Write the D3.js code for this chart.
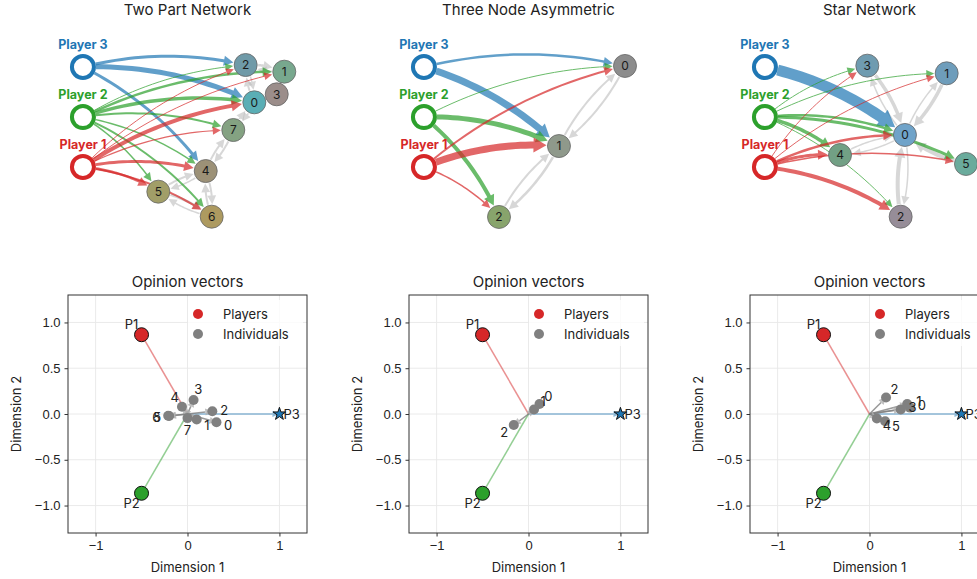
<!DOCTYPE html>
<html>
<head>
<meta charset="utf-8">
<script src="https://cdn.jsdelivr.net/npm/d3@7"></script>
<style>
  body { margin: 0; background: #fff; }
  svg { font-family: Inter, "Noto Sans", sans-serif; }
</style>
</head>
<body>
<div id="chart"></div>
<script>
// overall size and panel frames
var W = 977, H = 579;
var panelLeft = [68, 409, 750], panelW = 239;
var netTop = 25, netBottom = 235;
var vecTop = 295, vecBottom = 533;

var panelTitles = ["Two Part Network", "Three Node Asymmetric", "Star Network"];

// players (0 = Player 1, 1 = Player 2, 2 = Player 3)
var playerNames = ["Player 1", "Player 2", "Player 3"];
var playerShort = ["P1", "P2", "P3"];
var playerColors = ["#d62728", "#2ca02c", "#1f77b4"];
var playerLayoutX = [-1.05, -1.05, -1.05];
var playerLayoutY = [-0.387, 0.136, 0.66];

// --- Two Part Network ---
var net1Ids = [0, 1, 2, 3, 4, 5, 6, 7];
var net1X = [0.671, 0.972, 0.584, 0.896, 0.183, -0.293, 0.243, 0.46];
var net1Y = [0.29, 0.611, 0.681, 0.374, -0.43, -0.646, -0.908, 0.0];
var net1Colors = ["#5aaeb5", "#78a88e", "#6f9aa8", "#9b8d8a", "#9c9177", "#a19e68", "#ad9a60", "#84a282"];
// [player, node, weight]
var net1PlayerEdges = [
  [2, 2, 3], [2, 0, 5], [2, 4, 3],
  [1, 2, 1], [1, 1, 2.5], [1, 0, 3.5], [1, 7, 2], [1, 4, 1.5], [1, 5, 1.5], [1, 6, 2],
  [0, 2, 1], [0, 1, 1], [0, 0, 4], [0, 7, 1.2], [0, 4, 3], [0, 5, 2.5], [0, 6, 2]
];
// [from, to, weight]
var net1Links = [
  [5, 4, 2], [4, 5, 1.5], [5, 6, 2.5], [6, 5, 1.5], [4, 6, 2], [6, 4, 2],
  [4, 7, 2], [7, 4, 2], [7, 0, 2], [0, 7, 1.5], [0, 2, 2], [2, 0, 1.5],
  [2, 1, 2.5], [1, 2, 2], [1, 3, 2], [3, 1, 2], [0, 3, 1.5], [3, 0, 1.5]
];

// --- Three Node Asymmetric ---
var net2Ids = [0, 1, 2];
var net2X = [0.969, 0.306, -0.296];
var net2Y = [0.671, -0.168, -0.911];
var net2Colors = ["#8c8c8c", "#8f998b", "#88a46c"];
var net2PlayerEdges = [
  [2, 0, 2.5], [2, 1, 7],
  [1, 0, 1], [1, 1, 5], [1, 2, 4],
  [0, 0, 2], [0, 1, 7], [0, 2, 1.5]
];
var net2Links = [[0, 1, 2], [1, 0, 2], [1, 2, 2.5], [2, 1, 2]];

// --- Star Network ---
var net3Ids = [0, 1, 2, 3, 4, 5];
var net3X = [0.356, 0.775, 0.313, -0.022, -0.296, 0.969];
var net3Y = [-0.052, 0.594, -0.908, 0.674, -0.262, -0.356];
var net3Colors = ["#6fa3c9", "#6e9dbb", "#968d98", "#6f9bb0", "#72a085", "#6aab9c"];
var net3PlayerEdges = [
  [2, 0, 11],
  [1, 3, 1], [1, 1, 1], [1, 0, 2.5], [1, 5, 3], [1, 4, 3.5], [1, 2, 1],
  [0, 3, 1], [0, 1, 1], [0, 0, 2.5], [0, 4, 3], [0, 5, 1.5], [0, 2, 4]
];
var net3Links = [
  [3, 0, 3.5], [0, 3, 1.5], [1, 0, 3.5], [0, 1, 1.5], [5, 0, 4],
  [2, 0, 4], [0, 2, 1.5], [4, 0, 1.5], [0, 4, 1.5]
];

// --- Opinion vectors ---
var playerOpX = [-0.5, -0.5, 1];
var playerOpY = [0.866, -0.866, 0];
var op1X = [0.315, 0.10, 0.27, 0.066, -0.06, -0.20, -0.21, 0.0];
var op1Y = [-0.09, -0.06, 0.03, 0.153, 0.08, -0.022, -0.02, -0.045];
var op2X = [0.12, 0.06, -0.16];
var op2Y = [0.11, 0.05, -0.12];
var op3X = [0.44, 0.41, 0.18, 0.34, 0.08, 0.17];
var op3Y = [0.07, 0.11, 0.18, 0.05, -0.05, -0.08];

var xTicks = [-1, 0, 1];
var yTicks = [-1, -0.5, 0, 0.5, 1];
var legendLabels = ["Players", "Individuals"];

var nets = [
  {ids: net1Ids, x: net1X, y: net1Y, colors: net1Colors, pEdges: net1PlayerEdges, links: net1Links, opX: op1X, opY: op1Y},
  {ids: net2Ids, x: net2X, y: net2Y, colors: net2Colors, pEdges: net2PlayerEdges, links: net2Links, opX: op2X, opY: op2Y},
  {ids: net3Ids, x: net3X, y: net3Y, colors: net3Colors, pEdges: net3PlayerEdges, links: net3Links, opX: op3X, opY: op3Y}
];

var svg = d3.select("#chart").append("svg")
  .attr("width", W)
  .attr("height", H);

var fmtTick = function(d) { return (d < 0 ? "\u2212" : "") + Math.abs(d); };
var fmtTickY = function(d) { return (d < 0 ? "\u2212" : "") + Math.abs(d).toFixed(1); };

// quadratic bezier helpers for the curved (arc3 like) edges
function bez(p0, c, p1, t) {
  var a = (1 - t) * (1 - t), b = 2 * t * (1 - t), e = t * t;
  return [a * p0[0] + b * c[0] + e * p1[0], a * p0[1] + b * c[1] + e * p1[1]];
}
function dist(a, b) { return Math.hypot(a[0] - b[0], a[1] - b[1]); }

function drawEdge(g, s, tg, rs, rt, w, color, opacity, rad) {
  var dx = tg[0] - s[0], dy = tg[1] - s[1];
  var c = [(s[0] + tg[0]) / 2 + rad * dy, (s[1] + tg[1]) / 2 - rad * dx];
  var i, lo, hi, mid;
  // leave the source circle
  lo = 0; hi = 0.5;
  for (i = 0; i < 30; i++) { mid = (lo + hi) / 2; if (dist(bez(s, c, tg, mid), s) < rs) lo = mid; else hi = mid; }
  var t0 = hi;
  // stop at the target circle
  lo = 0.5; hi = 1;
  for (i = 0; i < 30; i++) { mid = (lo + hi) / 2; if (dist(bez(s, c, tg, mid), tg) > rt) lo = mid; else hi = mid; }
  var t1 = lo;
  var tip = bez(s, c, tg, t1);
  var hl = 7 + w * 0.85, hw = 3.2 + w * 0.6;
  lo = t0; hi = t1;
  for (i = 0; i < 30; i++) { mid = (lo + hi) / 2; if (dist(bez(s, c, tg, mid), tip) > hl) lo = mid; else hi = mid; }
  var t2 = lo;
  var pts = d3.range(0, 21).map(function(k) { return bez(s, c, tg, t0 + (t2 + 0.02 * (t1 - t0) - t0) * k / 20); });
  var base = bez(s, c, tg, t2);
  var ux = tip[0] - base[0], uy = tip[1] - base[1], L = Math.hypot(ux, uy);
  ux /= L; uy /= L;
  var eg = g.append("g").attr("opacity", opacity);
  eg.append("path")
    .attr("d", d3.line()(pts))
    .attr("fill", "none")
    .attr("stroke", color)
    .attr("stroke-width", w);
  eg.append("path")
    .attr("d", d3.line()([tip, [base[0] - uy * hw, base[1] + ux * hw], [base[0] + uy * hw, base[1] - ux * hw]]) + "Z")
    .attr("fill", color);
}

var nodeR = 11.5, playerR = 11;

nets.forEach(function(net, p) {
  var left = panelLeft[p];

  // ---------- top: network ----------
  var gx = d3.scaleLinear().domain([-1.2, 1.2]).range([left, left + panelW]);
  var gy = d3.scaleLinear().domain([-1.1, 1.1]).range([netBottom, netTop]);
  var g = svg.append("g");

  g.append("text")
    .attr("x", left + panelW / 2).attr("y", 15)
    .attr("text-anchor", "middle")
    .attr("font-size", 15).attr("fill", "#222")
    .text(panelTitles[p]);

  var nodePos = {};
  net.ids.forEach(function(id, i) { nodePos[id] = [gx(net.x[i]), gy(net.y[i])]; });
  var playerPos = playerNames.map(function(n, i) { return [gx(playerLayoutX[i]), gy(playerLayoutY[i])]; });

  var edgeG = g.append("g");
  net.links.forEach(function(l) {
    drawEdge(edgeG, nodePos[l[0]], nodePos[l[1]], nodeR + 1, nodeR + 1, l[2], "#bdbdbd", 0.6, 0.12);
  });
  net.pEdges.forEach(function(e) {
    drawEdge(edgeG, playerPos[e[0]], nodePos[e[1]], playerR + 2, nodeR + 1, e[2], playerColors[e[0]], 0.7, 0.12);
  });

  var nodes = g.append("g").selectAll("g")
    .data(net.ids)
    .enter().append("g")
    .attr("transform", function(d) { return "translate(" + nodePos[d][0] + "," + nodePos[d][1] + ")"; });
  nodes.append("circle")
    .attr("r", nodeR)
    .attr("fill", function(d, i) { return net.colors[i]; })
    .attr("stroke", "#666").attr("stroke-width", 0.8);
  nodes.append("text")
    .attr("text-anchor", "middle").attr("dy", "0.36em")
    .attr("font-size", 12).attr("fill", "#1a1a1a")
    .text(function(d) { return d; });

  var pl = g.append("g").selectAll("g")
    .data(playerNames)
    .enter().append("g")
    .attr("transform", function(d, i) { return "translate(" + playerPos[i][0] + "," + playerPos[i][1] + ")"; });
  pl.append("circle")
    .attr("r", playerR)
    .attr("fill", "#fff")
    .attr("stroke", function(d, i) { return playerColors[i]; })
    .attr("stroke-width", 4);
  pl.append("text")
    .attr("y", -18).attr("text-anchor", "middle")
    .attr("font-size", 12.5).attr("font-weight", "bold")
    .attr("fill", function(d, i) { return playerColors[i]; })
    .text(function(d) { return d; });

  // ---------- bottom: opinion vectors ----------
  var vx = d3.scaleLinear().domain([-1.3, 1.3]).range([left, left + panelW]);
  var vy = d3.scaleLinear().domain([-1.3, 1.3]).range([vecBottom, vecTop]);
  var v = svg.append("g");

  v.append("text")
    .attr("x", left + panelW / 2).attr("y", 287)
    .attr("text-anchor", "middle")
    .attr("font-size", 15).attr("fill", "#222")
    .text("Opinion vectors");

  // grid
  v.append("g").selectAll("line").data(xTicks).enter().append("line")
    .attr("x1", function(d) { return vx(d); }).attr("x2", function(d) { return vx(d); })
    .attr("y1", vecTop).attr("y2", vecBottom)
    .attr("stroke", "#e8e8e8").attr("stroke-width", 0.9);
  v.append("g").selectAll("line").data(yTicks).enter().append("line")
    .attr("y1", function(d) { return vy(d); }).attr("y2", function(d) { return vy(d); })
    .attr("x1", left).attr("x2", left + panelW)
    .attr("stroke", "#e8e8e8").attr("stroke-width", 0.9);

  // axes
  var xAxis = v.append("g")
    .attr("transform", "translate(0," + vecBottom + ")")
    .call(d3.axisBottom(vx).tickValues(xTicks).tickFormat(fmtTick).tickSize(3.5).tickPadding(4));
  var yAxis = v.append("g")
    .attr("transform", "translate(" + left + ",0)")
    .call(d3.axisLeft(vy).tickValues(yTicks).tickFormat(fmtTickY).tickSize(3.5).tickPadding(4));
  [xAxis, yAxis].forEach(function(a) {
    a.select(".domain").remove();
    a.selectAll("line").attr("stroke", "#333");
    a.selectAll("text").attr("font-size", 13).attr("fill", "#222").attr("font-family", null);
  });

  v.append("text")
    .attr("x", left + panelW / 2).attr("y", 572)
    .attr("text-anchor", "middle").attr("font-size", 13).attr("fill", "#222")
    .text("Dimension 1");
  v.append("text")
    .attr("transform", "translate(" + (left - 47) + "," + ((vecTop + vecBottom) / 2) + ") rotate(-90)")
    .attr("text-anchor", "middle").attr("font-size", 13).attr("fill", "#222")
    .text("Dimension 2");

  var ox = vx(0), oy = vy(0);
  function arrow(x2, y2, color, headColor, w, hl, hw, op) {
    var ux = x2 - ox, uy = y2 - oy, L = Math.hypot(ux, uy);
    ux /= L; uy /= L;
    var bx = x2 - ux * hl, by = y2 - uy * hl;
    v.append("line")
      .attr("x1", ox).attr("y1", oy).attr("x2", bx).attr("y2", by)
      .attr("stroke", color).attr("stroke-width", w).attr("opacity", op);
    v.append("path")
      .attr("d", d3.line()([[x2, y2], [bx - uy * hw, by + ux * hw], [bx + uy * hw, by - ux * hw]]) + "Z")
      .attr("fill", headColor).attr("opacity", op);
  }

  // player vectors
  playerOpX.forEach(function(d, i) {
    arrow(vx(playerOpX[i]), vy(playerOpY[i]), playerColors[i], playerColors[i], 1.5, 7, 3, 0.5);
  });
  // individual vectors
  net.opX.forEach(function(d, i) {
    arrow(vx(net.opX[i]), vy(net.opY[i]), "#808080", "#b0b0b0", 1.5, 7, 3.5, 0.8);
  });

  // individual points
  v.append("g").selectAll("circle")
    .data(net.ids)
    .enter().append("circle")
    .attr("cx", function(d, i) { return vx(net.opX[i]); })
    .attr("cy", function(d, i) { return vy(net.opY[i]); })
    .attr("r", 5)
    .attr("fill", "#808080");
  v.append("g").selectAll("text")
    .data(net.ids)
    .enter().append("text")
    .attr("x", function(d, i) {
      var L = Math.hypot(net.opX[i], net.opY[i]);
      return vx(net.opX[i]) + 12 * net.opX[i] / L;
    })
    .attr("y", function(d, i) {
      var L = Math.hypot(net.opX[i], net.opY[i]);
      return vy(net.opY[i]) - 12 * net.opY[i] / L;
    })
    .attr("dy", "0.36em")
    .attr("text-anchor", "middle").attr("font-size", 13).attr("fill", "#222")
    .text(function(d) { return d; });

  // player points
  playerOpX.forEach(function(d, i) {
    var px = vx(playerOpX[i]), py = vy(playerOpY[i]);
    if (i < 2) {
      v.append("circle").attr("cx", px).attr("cy", py).attr("r", 7)
        .attr("fill", playerColors[i]).attr("stroke", "#111").attr("stroke-width", 1);
    } else {
      v.append("path")
        .attr("d", d3.symbol().type(d3.symbolStar).size(50)())
        .attr("transform", "translate(" + px + "," + py + ")")
        .attr("fill", playerColors[i]).attr("stroke", "#111").attr("stroke-width", 1);
    }
    var lbl = v.append("text")
      .attr("dy", "0.36em").attr("font-size", 13).attr("fill", "#222")
      .text(playerShort[i]);
    if (playerOpX[i] > 0) {
      lbl.attr("x", px + 4).attr("y", py).attr("text-anchor", "start");
    } else {
      lbl.attr("x", px - 10).attr("y", py + (playerOpY[i] > 0 ? -10 : 10)).attr("text-anchor", "middle");
    }
  });

  // legend
  var lg = v.append("g").attr("transform", "translate(" + (left + 120) + "," + (vecTop + 5) + ")");
  lg.append("rect").attr("width", 115).attr("height", 46).attr("fill", "#fff").attr("opacity", 0.8);
  legendLabels.forEach(function(lab, i) {
    lg.append("circle").attr("cx", 10).attr("cy", 14 + i * 20).attr("r", 5)
      .attr("fill", i === 0 ? playerColors[0] : "#808080");
    lg.append("text").attr("x", 35).attr("y", 14 + i * 20).attr("dy", "0.36em")
      .attr("font-size", 13).attr("fill", "#222").text(lab);
  });

  // frame
  v.append("rect")
    .attr("x", left).attr("y", vecTop).attr("width", panelW).attr("height", vecBottom - vecTop)
    .attr("fill", "none").attr("stroke", "#333").attr("stroke-width", 1);
});
</script>
</body>
</html>
